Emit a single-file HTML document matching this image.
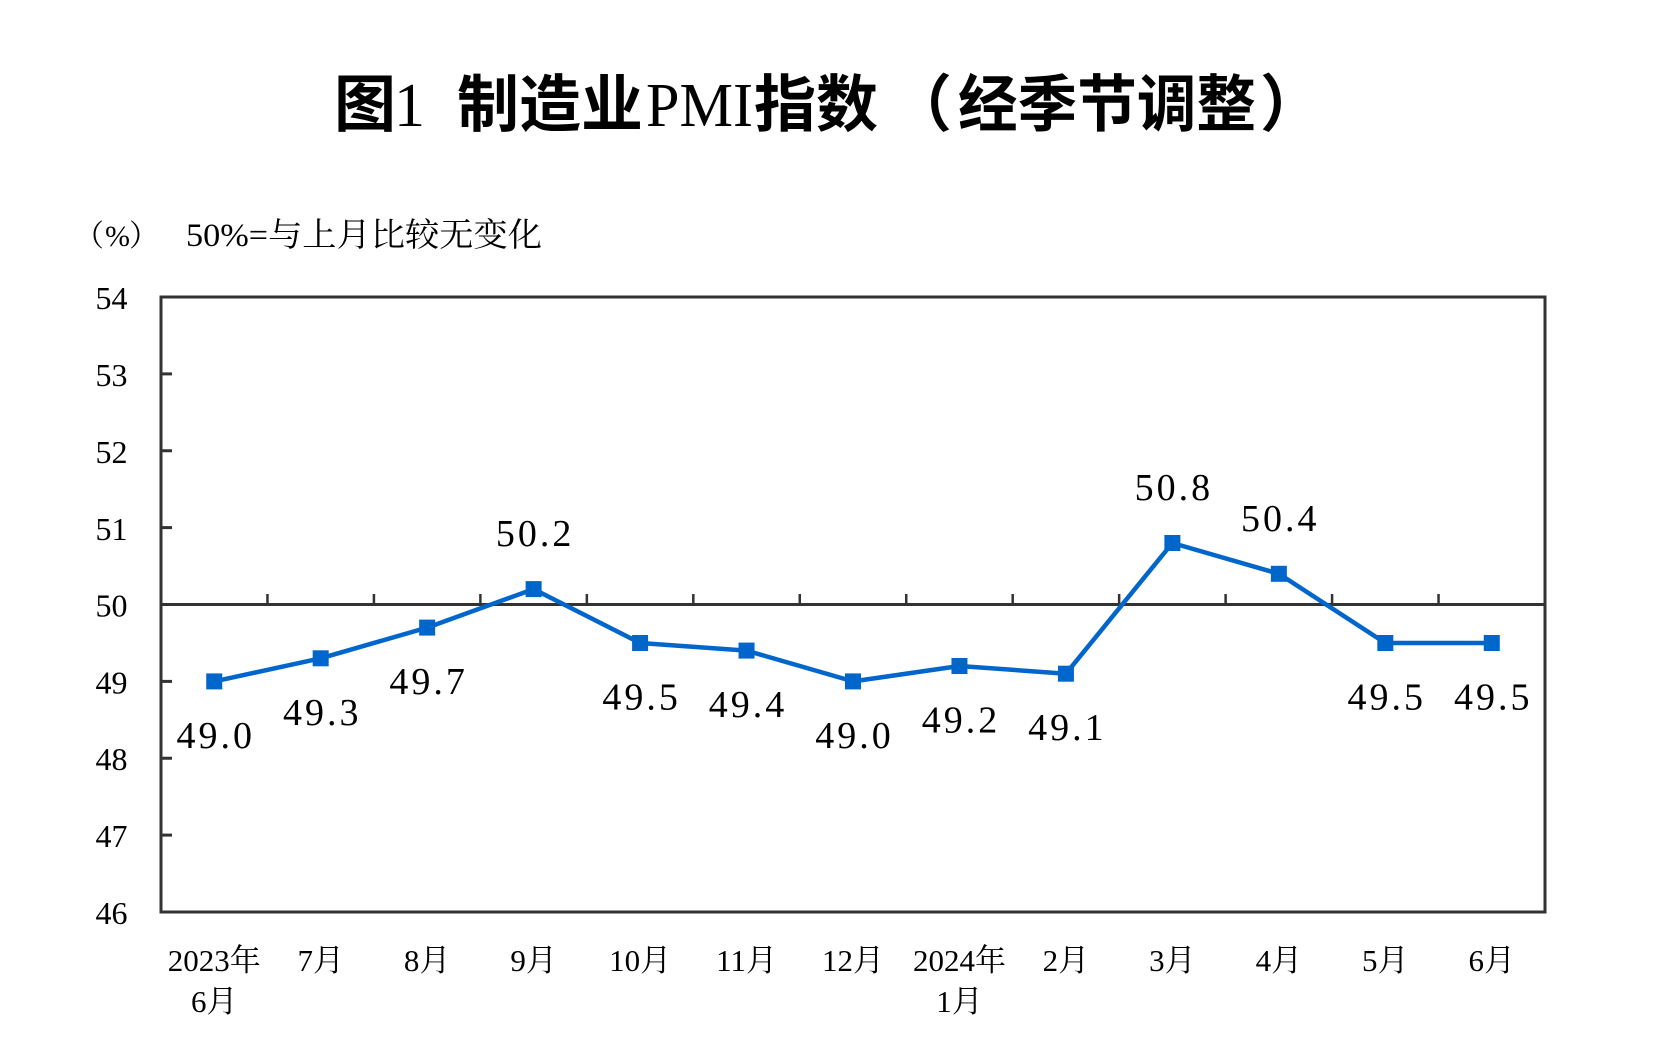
<!DOCTYPE html>
<html>
<head>
<meta charset="utf-8">
<style>
  html,body{margin:0;padding:0;background:#fff;}
  svg{display:block;}
</style>
</head>
<body>
<svg width="1662" height="1047" viewBox="0 0 1662 1047" xmlns="http://www.w3.org/2000/svg">
  <rect x="0" y="0" width="1662" height="1047" fill="#fff"/>

  <!-- Title -->
  <g font-size="62" fill="#000">
    <text x="334" y="126" font-family="'Noto Sans CJK SC', 'WenQuanYi Zen Hei', sans-serif" font-weight="bold">图</text>
    <text x="394" y="126" font-family="'Liberation Serif', serif">1</text>
    <text x="457" y="126" font-family="'Noto Sans CJK SC', 'WenQuanYi Zen Hei', sans-serif" font-weight="bold">制造业</text>
    <text x="646" y="126" font-family="'Liberation Serif', serif" textLength="107" lengthAdjust="spacingAndGlyphs">PMI</text>
    <text x="754" y="126" font-family="'Noto Sans CJK SC', 'WenQuanYi Zen Hei', sans-serif" font-weight="bold">指数</text>
    <text x="890" y="126" font-family="'Noto Sans CJK SC', 'WenQuanYi Zen Hei', sans-serif" font-weight="bold">（</text>
    <text x="958" y="126" font-family="'Noto Sans CJK SC', 'WenQuanYi Zen Hei', sans-serif" font-weight="bold" textLength="298" lengthAdjust="spacingAndGlyphs">经季节调整</text>
    <text x="1260" y="126" font-family="'Noto Sans CJK SC', 'WenQuanYi Zen Hei', sans-serif" font-weight="bold">）</text>
  </g>

  <!-- Subtitle -->
  <g fill="#000" font-family="'Liberation Serif', 'Noto Serif CJK SC', serif" font-size="33">
    <text x="74" y="246" font-size="30">（</text>
    <text x="105" y="246" font-size="30">%</text>
    <text x="129" y="246" font-size="30">）</text>
    <text x="186" y="246" textLength="356" lengthAdjust="spacingAndGlyphs">50%=与上月比较无变化</text>
  </g>

  <!-- Plot frame -->
  <rect x="161" y="297" width="1384" height="615" fill="none" stroke="#333" stroke-width="3"/>
  <!-- 50 line -->
  <line x1="161" y1="604.5" x2="1545" y2="604.5" stroke="#333" stroke-width="3"/>

  <!-- x ticks on 50 line -->
  <g stroke="#333" stroke-width="2.5">
    <line x1="267.46" y1="594" x2="267.46" y2="604.5"/>
    <line x1="373.92" y1="594" x2="373.92" y2="604.5"/>
    <line x1="480.38" y1="594" x2="480.38" y2="604.5"/>
    <line x1="586.85" y1="594" x2="586.85" y2="604.5"/>
    <line x1="693.31" y1="594" x2="693.31" y2="604.5"/>
    <line x1="799.77" y1="594" x2="799.77" y2="604.5"/>
    <line x1="906.23" y1="594" x2="906.23" y2="604.5"/>
    <line x1="1012.69" y1="594" x2="1012.69" y2="604.5"/>
    <line x1="1119.15" y1="594" x2="1119.15" y2="604.5"/>
    <line x1="1225.62" y1="594" x2="1225.62" y2="604.5"/>
    <line x1="1332.08" y1="594" x2="1332.08" y2="604.5"/>
    <line x1="1438.54" y1="594" x2="1438.54" y2="604.5"/>
  </g>

  <!-- y ticks -->
  <g stroke="#333" stroke-width="3">
    <line x1="161" y1="373.9" x2="172" y2="373.9"/>
    <line x1="161" y1="450.75" x2="172" y2="450.75"/>
    <line x1="161" y1="527.6" x2="172" y2="527.6"/>
    <line x1="161" y1="681.4" x2="172" y2="681.4"/>
    <line x1="161" y1="758.25" x2="172" y2="758.25"/>
    <line x1="161" y1="835.1" x2="172" y2="835.1"/>
  </g>

  <!-- y labels -->
  <g fill="#000" font-family="'Liberation Serif', serif" font-size="32" text-anchor="middle">
    <text x="111.5" y="309">54</text>
    <text x="111.5" y="386">53</text>
    <text x="111.5" y="463">52</text>
    <text x="111.5" y="540">51</text>
    <text x="111.5" y="616.5">50</text>
    <text x="111.5" y="693.4">49</text>
    <text x="111.5" y="770">48</text>
    <text x="111.5" y="847">47</text>
    <text x="111.5" y="924">46</text>
  </g>

  <!-- series line -->
  <polyline fill="none" stroke="#0066CC" stroke-width="4.5" stroke-linejoin="round"
    points="214.23,681.4 320.69,658.3 427.15,627.6 533.62,589.1 640.08,643.0 746.54,650.6 853.0,681.4 959.46,666.0 1065.92,673.7 1172.38,543.0 1278.85,573.8 1385.31,643.0 1491.77,643.0"/>

  <!-- markers -->
  <g fill="#0066CC">
    <rect x="206.23" y="673.4" width="16" height="16"/>
    <rect x="312.69" y="650.3" width="16" height="16"/>
    <rect x="419.15" y="619.6" width="16" height="16"/>
    <rect x="525.62" y="581.1" width="16" height="16"/>
    <rect x="632.08" y="635.0" width="16" height="16"/>
    <rect x="738.54" y="642.6" width="16" height="16"/>
    <rect x="845.0" y="673.4" width="16" height="16"/>
    <rect x="951.46" y="658.0" width="16" height="16"/>
    <rect x="1057.92" y="665.7" width="16" height="16"/>
    <rect x="1164.38" y="535.0" width="16" height="16"/>
    <rect x="1270.85" y="565.8" width="16" height="16"/>
    <rect x="1377.31" y="635.0" width="16" height="16"/>
    <rect x="1483.77" y="635.0" width="16" height="16"/>
  </g>

  <!-- data labels -->
  <g fill="#000" font-family="'Liberation Serif', serif" font-size="38" text-anchor="middle" letter-spacing="3">
    <text x="215.7" y="747.9">49.0</text>
    <text x="322.2" y="724.8">49.3</text>
    <text x="428.6" y="694.1">49.7</text>
    <text x="535.1" y="546.1">50.2</text>
    <text x="641.6" y="709.5">49.5</text>
    <text x="748.0" y="717.1">49.4</text>
    <text x="854.5" y="747.9">49.0</text>
    <text x="961.0" y="732.5">49.2</text>
    <text x="1067.4" y="740.2">49.1</text>
    <text x="1173.9" y="500.0">50.8</text>
    <text x="1280.3" y="530.8">50.4</text>
    <text x="1386.8" y="709.5">49.5</text>
    <text x="1493.3" y="709.5">49.5</text>
  </g>

  <!-- x labels -->
  <g fill="#000" font-family="'Liberation Serif', 'Noto Serif CJK SC', serif" font-size="31" text-anchor="middle">
    <text x="214.23" y="971">2023年</text>
    <text x="214.23" y="1012">6月</text>
    <text x="320.69" y="971">7月</text>
    <text x="427.15" y="971">8月</text>
    <text x="533.62" y="971">9月</text>
    <text x="640.08" y="971">10月</text>
    <text x="746.54" y="971">11月</text>
    <text x="853.0" y="971">12月</text>
    <text x="959.46" y="971">2024年</text>
    <text x="959.46" y="1012">1月</text>
    <text x="1065.92" y="971">2月</text>
    <text x="1172.38" y="971">3月</text>
    <text x="1278.85" y="971">4月</text>
    <text x="1385.31" y="971">5月</text>
    <text x="1491.77" y="971">6月</text>
  </g>
</svg>
</body>
</html>
